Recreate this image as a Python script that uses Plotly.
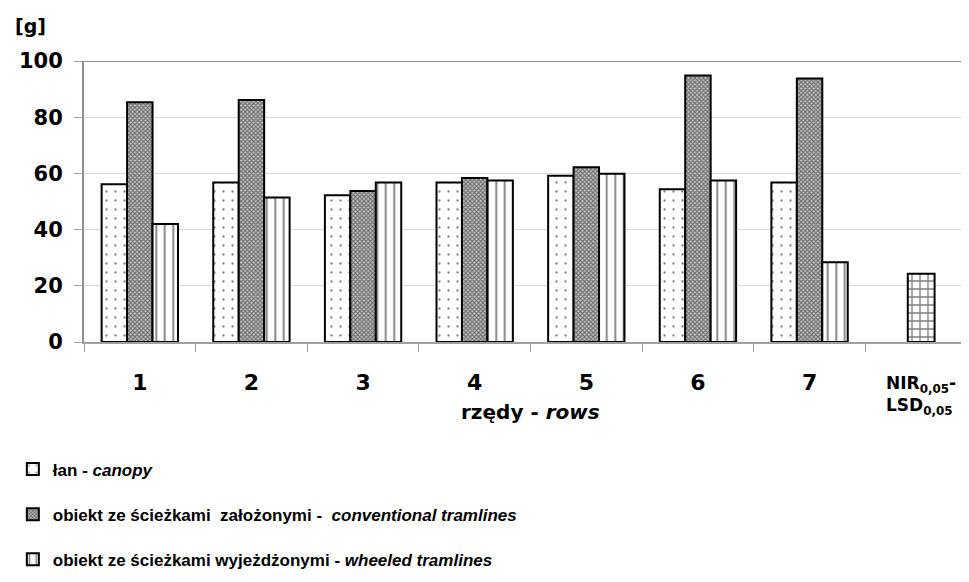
import plotly.graph_objects as go

categories = ["1", "2", "3", "4", "5", "6", "7", "NIR"]
tick_labels = ["1", "2", "3", "4", "5", "6", "7", ""]
row_categories = categories[:7]
canopy = [56.1, 56.8, 52.2, 56.8, 59.2, 54.4, 56.8]
conventional = [85.3, 86.1, 53.7, 58.4, 62.2, 94.8, 93.8]
wheeled = [42.0, 51.4, 56.8, 57.5, 59.9, 57.5, 28.4]
lsd_category = ["NIR"]
lsd_value = [24.3]

series_names = [
    "łan - <i>canopy</i>",
    "obiekt ze ścieżkami  założonymi -  <i>conventional tramlines</i>",
    "obiekt ze ścieżkami wyjeżdżonymi - <i>wheeled tramlines</i>",
]
y_ticks = [0, 20, 40, 60, 80, 100]

FONT = "DejaVu Sans"
LFONT = "Liberation Sans"
BW = 0.228

fig = go.Figure()
fig.add_trace(go.Bar(
    x=row_categories, y=canopy, name=series_names[0],
    width=BW, offset=-1.5 * BW,
    marker=dict(color="white", line=dict(color="black", width=2),
                pattern=dict(shape=".", size=9, solidity=0.05, fgcolor="black", bgcolor="white")),
    legendgroup="a",
))
fig.add_trace(go.Bar(
    x=row_categories, y=conventional, name=series_names[1],
    width=BW, offset=-0.5 * BW,
    marker=dict(color="white", line=dict(color="black", width=2),
                pattern=dict(shape="x", size=3, solidity=0.6, fgcolor="#111", bgcolor="#c8c8c8")),
    legendgroup="b",
))
fig.add_trace(go.Bar(
    x=row_categories, y=wheeled, name=series_names[2],
    width=BW, offset=0.5 * BW,
    marker=dict(color="white", line=dict(color="black", width=2),
                pattern=dict(shape="|", size=8.5, solidity=0.22, fgcolor="black", bgcolor="white")),
    legendgroup="c",
))
fig.add_trace(go.Bar(
    x=lsd_category, y=lsd_value, name="NIR",
    width=0.24, offset=-0.12, showlegend=False,
    marker=dict(color="white", line=dict(color="black", width=2),
                pattern=dict(shape="+", size=8, solidity=0.3, fgcolor="black", bgcolor="white")),
))

fig.update_layout(
    width=969, height=582,
    margin=dict(l=76, r=0, t=53, b=248, autoexpand=False),
    paper_bgcolor="white", plot_bgcolor="white",
    barmode="overlay",
    font=dict(family=FONT, color="black"),
    showlegend=True,
    legend=dict(
        xref="container", yref="container", x=0.005, y=0.238,
        xanchor="left", yanchor="top",
        font=dict(family=LFONT, size=17, color="black", weight="bold"),
        tracegroupgap=20, itemwidth=30,
        bgcolor="rgba(0,0,0,0)",
    ),
    xaxis=dict(
        type="category", categoryorder="array", categoryarray=categories,
        tickvals=categories, ticktext=tick_labels,
        range=[-0.5, 7.5], tickson="boundaries",
        ticks="outside", ticklen=8, tickcolor="#a0a0a0", tickwidth=1,
        showline=True, linecolor="#a0a0a0", linewidth=2,
        tickfont=dict(family=FONT, size=22, color="black", weight="bold"),
        ticklabelstandoff=20,
        showgrid=False, zeroline=False,
    ),
    yaxis=dict(
        range=[0, 100], tickvals=y_ticks,
        ticks="outside", ticklen=8, tickcolor="#a0a0a0",
        showline=True, linecolor="#909090", linewidth=2,
        showgrid=True, gridcolor="#d9d9d9", gridwidth=1,
        zeroline=False,
        tickfont=dict(family=FONT, size=21, color="black", weight="bold"),
        ticklabelstandoff=7,
    ),
)

# plot area top border
fig.add_shape(type="line", xref="paper", yref="y", x0=0, x1=1, y0=100, y1=100,
              line=dict(color="#909090", width=2))

fig.add_annotation(text="[g]", xref="paper", yref="paper", x=-0.0795, y=1.1246,
                   xanchor="left", yanchor="middle", showarrow=False,
                   font=dict(family=FONT, size=19, color="black", weight="bold"))
fig.add_annotation(text="rzędy - <i>rows</i>", xref="paper", yref="paper", x=0.5, y=-0.249,
                   xanchor="center", yanchor="middle", showarrow=False,
                   font=dict(family=FONT, size=20, color="black", weight="bold"))
fig.add_annotation(text="NIR<sub>0,05</sub>-<br>LSD<sub>0,05</sub>", x="NIR", yref="paper", y=-0.192,
                   xanchor="center", yanchor="middle", showarrow=False, align="left",
                   font=dict(family=FONT, size=17, color="black", weight="bold"))

fig.write_html("out.html")
